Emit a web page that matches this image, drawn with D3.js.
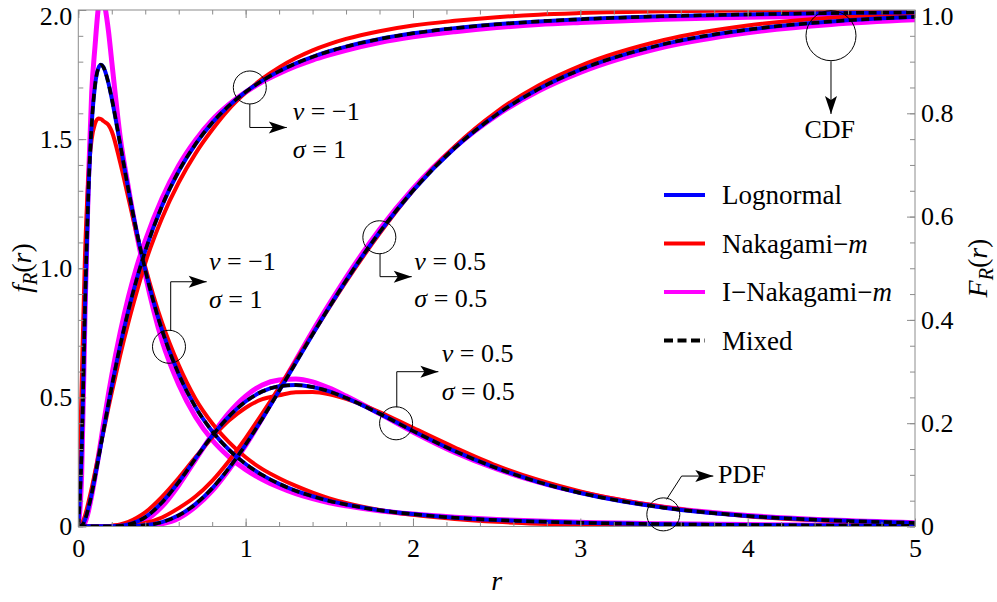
<!DOCTYPE html>
<html><head><meta charset="utf-8">
<script src="https://cdn.jsdelivr.net/npm/d3@7"></script>
<style>
body{margin:0;background:#fff}
svg text, svg tspan{font-family:"Liberation Serif" !important}
</style>
</head><body>
<svg id="chart" width="997" height="602" font-family="Liberation Serif"></svg>
<script>
// ---------------- data ----------------
const rValues = [0,0.02,0.04,0.06,0.08,0.1,0.12,0.135,0.15,0.18,0.2,0.25,0.3,0.35,0.4,0.5,0.6,0.7,0.8,0.9,1.0,1.1,1.2,1.3,1.4,1.5,1.6,1.8,2.0,2.25,2.5,2.75,3.0,3.5,4.0,4.5,5.0];

// nu = -1, sigma = 1 : PDF (left axis)
const lognormalPdfA = [0,0.287,0.851,1.285,1.557,1.708,1.775,1.788,1.779,1.717,1.657,1.481,1.302,1.138,0.994,0.761,0.590,0.463,0.369,0.297,0.242,0.199,0.165,0.138,0.117,0.099,0.085,0.063,0.048,0.034,0.025,0.019,0.0147,0.009,0.0058,0.0039,0.0027];
const nakagamiPdfA  = [0,0.55,1.05,1.35,1.50,1.56,1.58,1.578,1.57,1.555,1.53,1.41,1.27,1.13,1.005,0.79,0.625,0.495,0.40,0.327,0.268,0.222,0.187,0.157,0.131,0.109,0.091,0.064,0.045,0.029,0.018,0.011,0.006,0.002,0.0005,0.0001,0];
const iNakagamiPdfA = [0,0.20,0.82,1.33,1.68,1.86,2.01,2.06,2.04,1.92,1.80,1.51,1.31,1.13,0.975,0.72,0.55,0.425,0.335,0.27,0.22,0.182,0.152,0.127,0.108,0.092,0.080,0.061,0.048,0.036,0.027,0.021,0.016,0.011,0.0075,0.0052,0.0038];
const mixedPdfA = lognormalPdfA; // Mixed coincides with Lognormal

// nu = -1, sigma = 1 : CDF (right axis)
const lognormalCdfA = [0,0.0018,0.0132,0.0349,0.0635,0.0964,0.1313,0.158,0.1848,0.2374,0.2711,0.3496,0.4192,0.4801,0.5334,0.6205,0.6877,0.740,0.7814,0.8145,0.8413,0.8633,0.8815,0.8966,0.9093,0.9201,0.9292,0.9438,0.9548,0.9649,0.9723,0.9779,0.9821,0.9879,0.9915,0.9939,0.9955];
const nakagamiCdfA  = [0,0.005,0.021,0.046,0.074,0.105,0.136,0.160,0.183,0.230,0.260,0.331,0.396,0.455,0.510,0.597,0.666,0.722,0.768,0.808,0.840,0.867,0.889,0.907,0.922,0.934,0.944,0.959,0.970,0.979,0.986,0.991,0.994,0.9975,0.999,0.9997,1.0];
const iNakagamiCdfA = [0,0.001,0.008,0.029,0.060,0.096,0.135,0.166,0.197,0.256,0.293,0.375,0.445,0.504,0.553,0.635,0.699,0.748,0.787,0.817,0.841,0.861,0.877,0.891,0.903,0.913,0.922,0.937,0.948,0.958,0.966,0.972,0.976,0.982,0.986,0.988,0.990];
const mixedCdfA = lognormalCdfA;

// nu = 0.5, sigma = 0.5 : PDF (left axis)
const lognormalPdfB = [0,0,0,0,0,0,0,0,0,0,0.0005,0.0026,0.008,0.0187,0.036,0.093,0.172,0.263,0.351,0.426,0.484,0.523,0.543,0.548,0.540,0.523,0.498,0.437,0.370,0.292,0.226,0.172,0.130,0.073,0.041,0.024,0.014];
const nakagamiPdfB  = [0,0,0,0,0,0,0,0,0,0.001,0.003,0.008,0.018,0.034,0.055,0.115,0.188,0.268,0.344,0.410,0.460,0.493,0.508,0.520,0.521,0.512,0.494,0.443,0.382,0.306,0.236,0.180,0.136,0.076,0.040,0.021,0.011];
const iNakagamiPdfB = [0,0,0,0,0,0,0,0,0,0,0,0.0005,0.003,0.010,0.024,0.077,0.160,0.258,0.355,0.440,0.505,0.548,0.567,0.571,0.560,0.536,0.505,0.437,0.366,0.287,0.223,0.172,0.132,0.075,0.043,0.025,0.015];
const mixedPdfB = lognormalPdfB;

// nu = 0.5, sigma = 0.5 : CDF (right axis)
const lognormalCdfB = [0,0,0,0,0,0,0,0,0,0,0,0.0001,0.0003,0.001,0.0023,0.0085,0.0216,0.0433,0.074,0.113,0.1587,0.2091,0.2626,0.3173,0.3718,0.425,0.4761,0.5697,0.6504,0.733,0.7975,0.8469,0.8844,0.9339,0.9619,0.9777,0.9868];
const nakagamiCdfB  = [0,0,0,0,0,0,0,0,0,0.0001,0.0002,0.0006,0.0015,0.0035,0.0068,0.0175,0.0355,0.058,0.0885,0.127,0.171,0.219,0.269,0.321,0.373,0.424,0.474,0.567,0.650,0.736,0.803,0.854,0.892,0.942,0.970,0.985,0.993];
const iNakagamiCdfB = [0,0,0,0,0,0,0,0,0,0,0,0,0.0001,0.0003,0.001,0.005,0.016,0.038,0.069,0.110,0.157,0.210,0.266,0.322,0.378,0.431,0.482,0.575,0.654,0.734,0.796,0.843,0.879,0.928,0.956,0.972,0.981];
const mixedCdfB = lognormalCdfB;

const seriesNames = ["Lognormal", "Nakagami\u2212", "I\u2212Nakagami\u2212", "Mixed"];
const xTickLabels = ["0","1","2","3","4","5"];
const leftTickValues = [0,0.5,1.0,1.5,2.0];
const rightTickValues = [0,0.2,0.4,0.6,0.8,1.0];

// ---------------- layout ----------------
const SERIF_NAME = "Liberation Serif";
const svg = d3.select("#chart");
const X0 = 78.3, X1 = 915, Y0 = 526.5, Y1 = 10;
const x = d3.scaleLinear().domain([0,5]).range([X0,X1]);
const yL = d3.scaleLinear().domain([0,2]).range([Y0,Y1]);
const yR = d3.scaleLinear().domain([0,1]).range([Y0,Y1]);

const FONT = 26;
const axisColor = "#8c8c8c";

function serif(sel){
  return sel.attr("font-family", SERIF_NAME).style("font-family", `"${SERIF_NAME}"`);
}

svg.append("defs").append("clipPath").attr("id","plotclip")
  .append("rect").attr("x",X0).attr("y",Y1).attr("width",X1-X0).attr("height",Y0-Y1);

// ---------------- curves ----------------
const COLORS = {logn:"#0000ff", nak:"#ff0000", inak:"#ff00ff", mixed:"#000000"};
const curves = [
  {v:iNakagamiPdfA, s:yL, c:COLORS.inak, w:5},
  {v:iNakagamiCdfA, s:yR, c:COLORS.inak, w:5},
  {v:iNakagamiPdfB, s:yL, c:COLORS.inak, w:5},
  {v:iNakagamiCdfB, s:yR, c:COLORS.inak, w:5},
  {v:nakagamiPdfA, s:yL, c:COLORS.nak, w:4},
  {v:nakagamiCdfA, s:yR, c:COLORS.nak, w:4},
  {v:nakagamiPdfB, s:yL, c:COLORS.nak, w:4},
  {v:nakagamiCdfB, s:yR, c:COLORS.nak, w:4},
  {v:lognormalPdfA, s:yL, c:COLORS.logn, w:4},
  {v:lognormalCdfA, s:yR, c:COLORS.logn, w:4},
  {v:lognormalPdfB, s:yL, c:COLORS.logn, w:4},
  {v:lognormalCdfB, s:yR, c:COLORS.logn, w:4},
  {v:mixedPdfA, s:yL, c:COLORS.mixed, w:3.5, dash:"8,4.5"},
  {v:mixedCdfA, s:yR, c:COLORS.mixed, w:3.5, dash:"8,4.5"},
  {v:mixedPdfB, s:yL, c:COLORS.mixed, w:3.5, dash:"8,4.5"},
  {v:mixedCdfB, s:yR, c:COLORS.mixed, w:3.5, dash:"8,4.5"}
];
const plot = svg.append("g").attr("clip-path","url(#plotclip)");
curves.forEach(cv => {
  const pts = rValues.map((r,i)=>({r, v:cv.v[i]}));
  const line = d3.line().x(d=>x(d.r)).y(d=>cv.s(d.v)).curve(d3.curveMonotoneX);
  plot.append("path").datum(pts).attr("d",line)
    .attr("fill","none").attr("stroke",cv.c).attr("stroke-width",cv.w)
    .attr("stroke-linejoin","round")
    .attr("stroke-dasharray",cv.dash||null);
});

// ---------------- axes / frame ----------------
function styleAxis(g){
  g.attr("font-size", FONT).attr("font-family", SERIF_NAME);
  g.selectAll(".domain").remove();
  g.selectAll(".tick line").attr("stroke",axisColor);
  g.selectAll(".tick text").attr("fill","#000").call(serif);
}
const fmt = v => v===0 ? "0" : d3.format(".1f")(v);
// left
svg.append("g").attr("transform",`translate(${X0},0)`)
  .call(d3.axisLeft(yL).tickValues(d3.range(0,2.001,0.1)).tickSize(-5).tickFormat("")).call(styleAxis);
const gl = svg.append("g").attr("transform",`translate(${X0},0)`)
  .call(d3.axisLeft(yL).tickValues(leftTickValues).tickSize(-8).tickPadding(6).tickFormat(fmt)).call(styleAxis);
// right
svg.append("g").attr("transform",`translate(${X1},0)`)
  .call(d3.axisRight(yR).tickValues(d3.range(0,1.001,0.05)).tickSize(-5).tickFormat("")).call(styleAxis);
const gr = svg.append("g").attr("transform",`translate(${X1},0)`)
  .call(d3.axisRight(yR).tickValues(rightTickValues).tickSize(-8).tickPadding(6).tickFormat(fmt)).call(styleAxis);
// keep the top labels inside the picture
gl.selectAll(".tick text").filter(d=>d===2).attr("dy","0.55em");
gr.selectAll(".tick text").filter(d=>d===1).attr("dy","0.55em");
// bottom
svg.append("g").attr("transform",`translate(0,${Y0})`)
  .call(d3.axisBottom(x).tickValues(d3.range(0,5.001,0.2)).tickSize(-4.5).tickFormat("")).call(styleAxis);
svg.append("g").attr("transform",`translate(0,${Y0})`)
  .call(d3.axisBottom(x).tickValues(d3.range(0,6)).tickSize(-8).tickPadding(12).tickFormat((d,i)=>xTickLabels[i])).call(styleAxis);
// top
svg.append("g").attr("transform",`translate(0,${Y1})`)
  .call(d3.axisTop(x).tickValues(d3.range(0,5.001,0.2)).tickSize(-4.5).tickFormat("")).call(styleAxis);
svg.append("g").attr("transform",`translate(0,${Y1})`)
  .call(d3.axisTop(x).tickValues(d3.range(0,6)).tickSize(-8).tickFormat("")).call(styleAxis);
svg.append("rect").attr("x",X0).attr("y",Y1).attr("width",X1-X0).attr("height",Y0-Y1)
  .attr("fill","none").attr("stroke",axisColor).attr("stroke-width",1);

// axis titles
function axisTitle(tx,ty,main){
  const t = svg.append("text").attr("transform",`translate(${tx},${ty}) rotate(-90)`).attr("text-anchor","middle").attr("font-size",28).call(serif);
  t.append("tspan").attr("font-style","italic").text(main);
  t.append("tspan").attr("font-style","italic").attr("font-size",20).attr("dy",6).text("R");
  t.append("tspan").attr("dy",-6).text("(");
  t.append("tspan").attr("font-style","italic").text("r");
  t.append("tspan").text(")");
}
axisTitle(31,268,"f");
axisTitle(987,268,"F");
svg.append("text").attr("x",(X0+X1)/2).attr("y",590).attr("text-anchor","middle").attr("font-size",28).attr("font-style","italic").call(serif).text("r");

// ---------------- legend ----------------
const legendItems = [
  {name:seriesNames[0], c:COLORS.logn, italic:""},
  {name:seriesNames[1], c:COLORS.nak, italic:"m"},
  {name:seriesNames[2], c:COLORS.inak, italic:"m"},
  {name:seriesNames[3], c:COLORS.mixed, italic:"", dash:"9,4.5"}
];
legendItems.forEach((it,i)=>{
  const ly = 195 + i*48.5;
  svg.append("line").attr("x1",664).attr("x2",705).attr("y1",ly).attr("y2",ly)
    .attr("stroke",it.c).attr("stroke-width",4).attr("stroke-dasharray",it.dash||null);
  const t = svg.append("text").attr("x",722).attr("y",ly+9).attr("font-size",27).call(serif);
  t.append("tspan").text(it.name);
  if(it.italic) t.append("tspan").attr("font-style","italic").text(it.italic);
});

// ---------------- annotations ----------------
function arrowHead(tx,ty,dx,dy){
  const L=18, W=6, N=4;
  const ux=dx, uy=dy, px=-uy, py=ux;
  const bx=tx-ux*L, by=ty-uy*L;
  const pts=[[tx,ty],[bx+px*W,by+py*W],[tx-ux*(L-N),ty-uy*(L-N)],[bx-px*W,by-py*W]];
  svg.append("polygon").attr("points",pts.map(p=>p.join(",")).join(" ")).attr("fill","#000");
}
function label(x0,y0,parts){
  const t = svg.append("text").attr("x",x0).attr("y",y0).attr("font-size",FONT).call(serif);
  parts.forEach(p=>{ const s=t.append("tspan").text(p[0]); if(p[1]) s.attr("font-style","italic"); });
}
const annotations = [
  {r:1.025, v:1.70, R:16.5, path:[[0,16.5],[0,40],[37,40]], dir:[1,0], texts:[[43,33,"\u03bd"," = \u22121"],[43,71,"\u03c3"," = 1"]]},
  {r:0.542, v:0.696, R:16.5, path:[[1.7,-16],[1.7,-65],[37.7,-65]], dir:[1,0], texts:[[40,-77,"\u03bd"," = \u22121"],[40,-39,"\u03c3"," = 1"]]},
  {r:1.799, v:1.12, R:16.5, path:[[0.7,16],[0.7,39.4],[32.4,39.4]], dir:[1,0], texts:[[35,32.7,"\u03bd"," = 0.5"],[35,69.4,"\u03c3"," = 0.5"]]},
  {r:1.899, v:0.3996, R:16.5, path:[[0.7,-16],[0.7,-51.6],[42.3,-51.6]], dir:[1,0], texts:[[45.7,-61.6,"\u03bd"," = 0.5"],[45.7,-23.3,"\u03c3"," = 0.5"]]},
  {r:3.496, v:0.047, R:16.5, path:[[3.3,-15],[18.3,-38.3],[50,-38.3]], dir:[1,0], texts:[[54.7,-31.6,"","PDF"]]},
  {r:4.498, v:1.9005, R:25, path:[[0,25.6],[0,78.3]], dir:[0,1], texts:[[-26.5,102.3,"","CDF"]]}
];
annotations.forEach(a=>{
  const cx=x(a.r), cy=yL(a.v);
  svg.append("circle").attr("cx",cx).attr("cy",cy).attr("r",a.R).attr("fill","none").attr("stroke","#000").attr("stroke-width",1);
  svg.append("path").attr("d",d3.line()(a.path.map(p=>[cx+p[0],cy+p[1]]))).attr("fill","none").attr("stroke","#000").attr("stroke-width",1);
  const tip=a.path[a.path.length-1];
  arrowHead(cx+tip[0],cy+tip[1],a.dir[0],a.dir[1]);
  a.texts.forEach(tx=>{
    const parts = tx[2] ? [[tx[2],true],[tx[3],false]] : [[tx[3],false]];
    label(cx+tx[0],cy+tx[1],parts);
  });
});
svg.selectAll("text, tspan").style("font-family", `"${SERIF_NAME}"`);
</script>
</body></html>
